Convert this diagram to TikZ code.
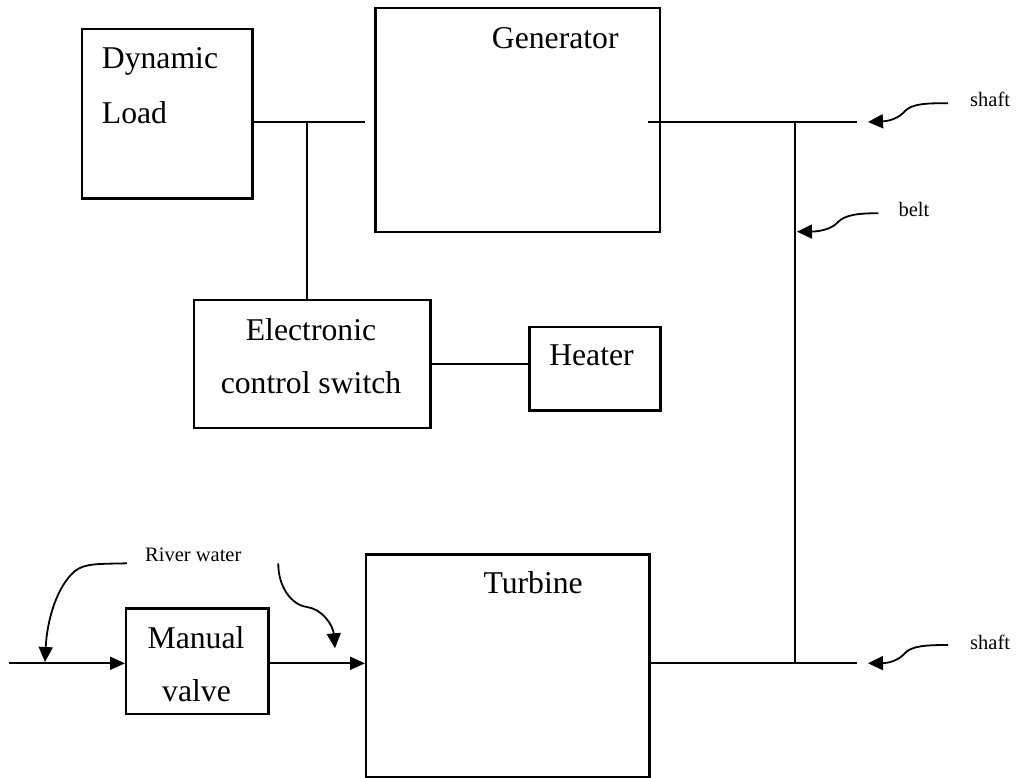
\documentclass[tikz,border=0pt]{standalone}
\usepackage{fontspec}
\setmainfont{Liberation Serif}
\usetikzlibrary{arrows.meta}
\begin{document}
\begin{tikzpicture}[x=1pt,y=-1pt,
  block/.style={draw, line width=2.2pt, inner sep=0pt, anchor=north west},
  bigtext/.style={font=\fontsize{31.7}{38}\selectfont, inner sep=0pt},
  smalltext/.style={font=\fontsize{20.5}{24}\selectfont, inner sep=0pt},
  wire/.style={line width=2pt},
  flow/.style={line width=2pt, -{Triangle[length=15pt,width=13pt]}},
  pointer/.style={line width=1.8pt, -{Triangle[length=15pt,width=14pt]}}]
\path[use as bounding box] (0,0) rectangle (1016,778);

% blocks
\node[block, minimum width=170.6pt, minimum height=169.3pt] (load) at (80.7,28) {};
\node[block, minimum width=284.4pt, minimum height=223.7pt] (gen) at (374.3,7.3) {};
\node[block, minimum width=236.6pt, minimum height=127.7pt] (ecs) at (192.7,299) {};
\node[block, minimum width=131pt, minimum height=83.6pt] (heater) at (528.3,325.7) {};
\node[block, minimum width=142.3pt, minimum height=105.4pt] (valve) at (125,607.3) {};
\node[block, minimum width=283.3pt, minimum height=223pt] (turb) at (365,553.3) {};

% block texts
\node[bigtext, anchor=base west] (tload1) at (101.7,68.3) {Dynamic};
\node[bigtext, anchor=base west] (tload2) at (101.7,124) {Load};
\node[bigtext, anchor=base west] (tgen) at (491.7,49) {Generator};
\node[bigtext, anchor=base] (tecs1) at (311,340) {Electronic};
\node[bigtext, anchor=base] (tecs2) at (311,393.3) {control switch};
\node[bigtext, anchor=base] (theat) at (591.5,365) {Heater};
\node[bigtext, anchor=base] (tvalve1) at (196,648.3) {Manual};
\node[bigtext, anchor=base] (tvalve2) at (196.5,701.7) {valve};
\node[bigtext, anchor=base west] (tturb) at (483.3,593.3) {Turbine};

% small labels
\node[smalltext, anchor=base west] (lshaft1) at (970,106.7) {shaft};
\node[smalltext, anchor=base west] (lbelt) at (898.3,216.7) {belt};
\node[smalltext, anchor=base west] (lshaft2) at (970,649.3) {shaft};
\node[smalltext, anchor=base west] (lriver) at (145,561.7) {River water};

% electrical wiring
\coordinate (busend) at (365,121.7);
\coordinate (tap) at (306.7,121.7);
\draw[wire] (load.east |- busend) -- (busend);
\draw[wire] (tap) -- (tap |- ecs.north);
\draw[wire] (ecs.east) -- (ecs.east -| heater.west);

% shafts and belt
\coordinate (gshaft0) at (648.3,121.7);
\coordinate (gshaft1) at (857,121.7);
\coordinate (tshaft1) at (857,663.3);
\coordinate (belttop) at (795,121.7);
\coordinate (beltbot) at (795,663.3);
\draw[wire] (gshaft0) -- (gshaft1);
\draw[wire] (turb.east |- tshaft1) -- (tshaft1);
\draw[wire] (belttop) -- (beltbot);

% water flow
\coordinate (inlet) at (9.3,663.3);
\draw[flow] (inlet) -- (valve.west |- inlet);
\draw[flow] (valve.east |- inlet) -- (turb.west |- inlet);

% pointer arrows
\coordinate (ps1) at (948,103.3);
\coordinate (pt1) at (868,122);
\draw[pointer] (ps1) .. controls (925,103) and (912,104) .. (905,111)
  .. controls (899,118) and (890,121) .. (pt1);
\coordinate (pb) at (878.3,213.3);
\coordinate (pbt) at (797,231.7);
\draw[pointer] (pb) .. controls (855,213) and (844,216) .. (838,222)
  .. controls (832,229) and (820,231.5) .. (pbt);
\coordinate (ps2) at (948,645);
\coordinate (pt2) at (868,663.3);
\draw[pointer] (ps2) .. controls (925,645) and (912,646) .. (905,653)
  .. controls (899,660) and (890,663) .. (pt2);
\coordinate (rl0) at (127,563.3);
\coordinate (rl1) at (45,662);
\draw[pointer] (rl0) .. controls (100,564) and (85,563) .. (75,571)
  .. controls (57,586) and (47,620) .. (rl1);
\coordinate (rr0) at (278.3,563.3);
\coordinate (rr1) at (335,648.3);
\draw[pointer] (rr0) .. controls (278,586) and (291,605) .. (307,607)
  .. controls (322,609) and (333,625) .. (rr1);
\end{tikzpicture}
\end{document}
